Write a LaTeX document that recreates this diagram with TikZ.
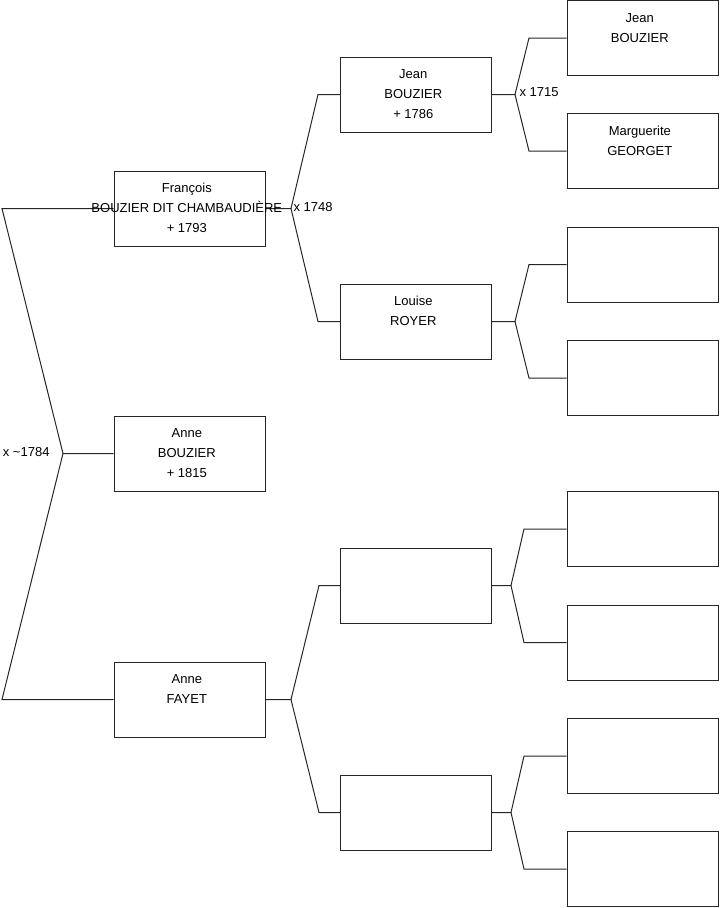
\documentclass[tikz,border=0pt]{standalone}
\usepackage{fontspec}
\setmainfont{Liberation Sans}
\newcommand\boxlines[1]{\parbox[t]{200pt}{\centering\fontsize{9.75pt}{15pt}\selectfont #1}}
\begin{document}
\begin{tikzpicture}[x=0.75pt,y=-0.75pt,
  line width=0.75pt,
  person/.style={draw=black!85,line width=0.75pt,rectangle,inner sep=0pt,minimum width=113.25pt,minimum height=56.25pt},
  pname/.style={anchor=base,inner sep=0pt,text=black},
  wed/.style={inner sep=0pt,font=\fontsize{9.75pt}{12pt}\selectfont,text=black},
  link/.style={draw=black!85,line width=0.75pt}]
\useasboundingbox (0,0) rectangle (719,908);
% generation 1
\node[person] (fr) at (189.5,208.5) {};
\node[person] (ab) at (189.5,453.5) {};
\node[person] (af) at (189.5,699.5) {};
% generation 2
\node[person] (je) at (416,94.5) {};
\node[person] (lo) at (416,321.5) {};
\node[person] (e1) at (416,585.5) {};
\node[person] (e2) at (416,812.5) {};
% generation 3
\node[person] (g1) at (642.5,38) {};
\node[person] (g2) at (642.5,151) {};
\node[person] (g3) at (642.5,264.5) {};
\node[person] (g4) at (642.5,378) {};
\node[person] (g5) at (642.5,529) {};
\node[person] (g6) at (642.5,642.5) {};
\node[person] (g7) at (642.5,756) {};
\node[person] (g8) at (642.5,869) {};
% connectors
\coordinate (k1) at (63,453.5);
\coordinate (k1a) at (2,208.5);
\coordinate (k1b) at (2,699.5);
\draw[link] (ab.west) -- (k1) -- (k1a) -- (fr.west);
\draw[link] (k1) -- (k1b) -- (af.west);
\coordinate (k2) at (291,208.5);
\draw[link] (fr.east) -- (k2) -- (318,94.5) -- (je.west);
\draw[link] (k2) -- (318,321.5) -- (lo.west);
\coordinate (k3) at (515,94.5);
\draw[link] (je.east) -- (k3) -- (529,38) -- (g1.west);
\draw[link] (k3) -- (529,151) -- (g2.west);
\coordinate (k4) at (515,321.5);
\draw[link] (lo.east) -- (k4) -- (529,264.5) -- (g3.west);
\draw[link] (k4) -- (529,378) -- (g4.west);
\coordinate (k5) at (291,699.5);
\draw[link] (af.east) -- (k5) -- (319,585.5) -- (e1.west);
\draw[link] (k5) -- (319,812.5) -- (e2.west);
\coordinate (k6) at (511,585.5);
\draw[link] (e1.east) -- (k6) -- (524,529) -- (g5.west);
\draw[link] (k6) -- (524,642.5) -- (g6.west);
\coordinate (k7) at (511,812.5);
\draw[link] (e2.east) -- (k7) -- (524,756) -- (g7.west);
\draw[link] (k7) -- (524,869) -- (g8.west);
% texts
\tikzset{tpos/.style={xshift=-2pt,yshift=-16.6pt}}
\node[pname] (tfr) at ([tpos]fr.north) {\boxlines{François\\BOUZIER DIT CHAMBAUDIÈRE\\+ 1793}};
\node[pname] (tab) at ([tpos]ab.north) {\boxlines{Anne\\BOUZIER\\+ 1815}};
\node[pname] (taf) at ([tpos]af.north) {\boxlines{Anne\\FAYET}};
\node[pname] (tje) at ([tpos]je.north) {\boxlines{Jean\\BOUZIER\\+ 1786}};
\node[pname] (tlo) at ([tpos]lo.north) {\boxlines{Louise\\ROYER}};
\node[pname] (tg1) at ([tpos]g1.north) {\boxlines{Jean\\BOUZIER}};
\node[pname] (tg2) at ([tpos]g2.north) {\boxlines{Marguerite\\GEORGET}};
% marriage labels
\node[wed,anchor=east] (w1) at (50,452) {x \char`\~1784};
\node[wed,anchor=west] (w2) at (293,207) {x 1748};
\node[wed,anchor=west] (w3) at (519,92.5) {x 1715};
\end{tikzpicture}
\end{document}
